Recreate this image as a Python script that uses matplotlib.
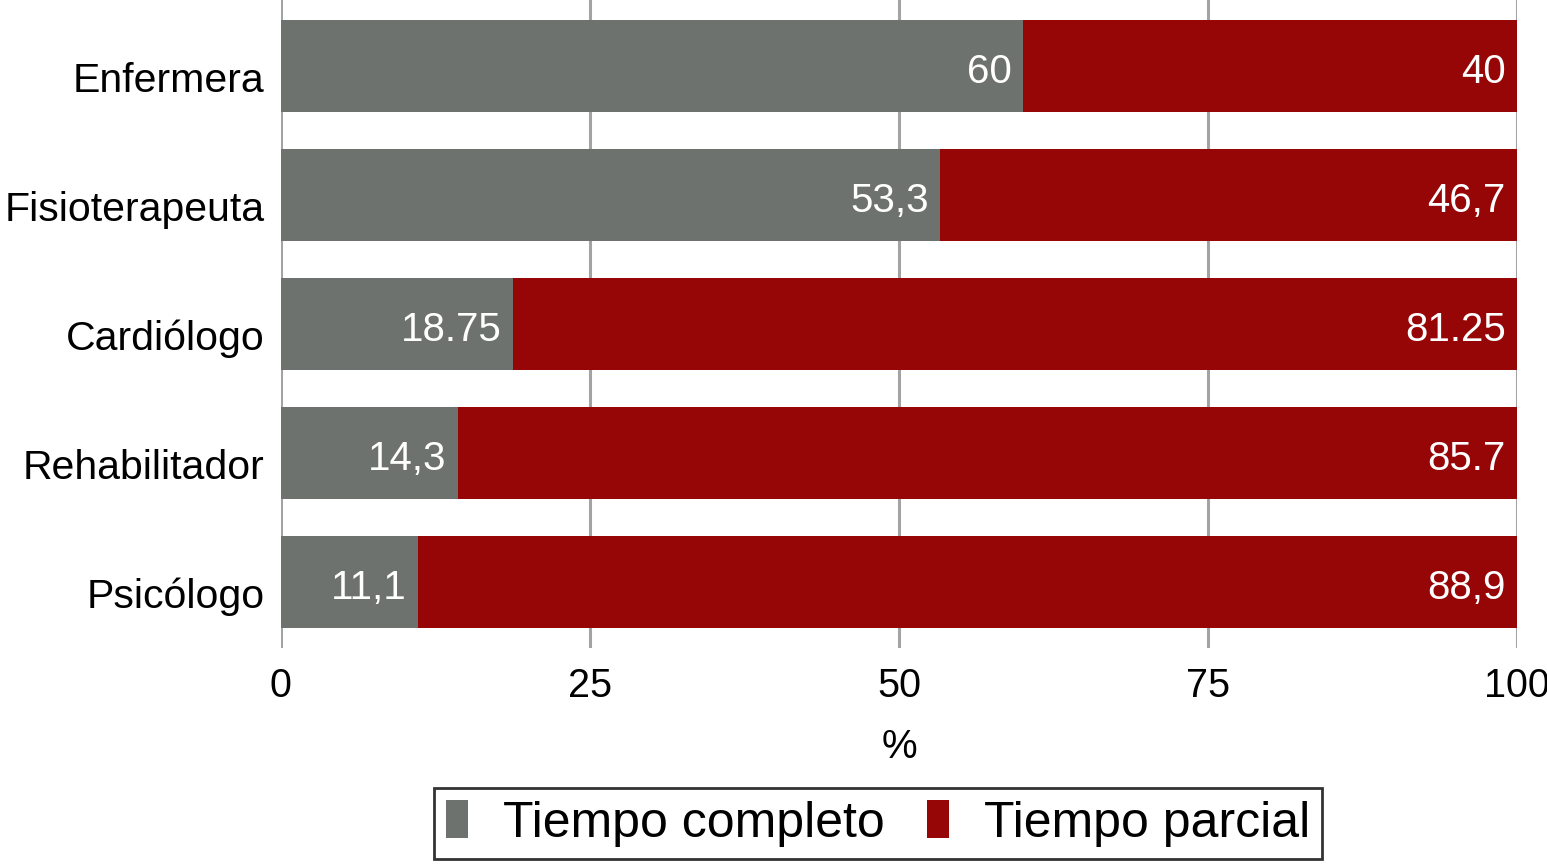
import numpy as np
import matplotlib
matplotlib.use("Agg")
import matplotlib.pyplot as plt
from matplotlib.transforms import ScaledTranslation

plt.rcParams['font.family'] = ['Liberation Sans', 'DejaVu Sans']

categorias = ["Psicólogo", "Rehabilitador", "Cardiólogo", "Fisioterapeuta", "Enfermera"]
completo = [11.1, 14.3, 18.75, 53.3, 60]
parcial = [88.9, 85.7, 81.25, 46.7, 40]
etiq_completo = ["11,1", "14,3", "18.75", "53,3", "60"]
etiq_parcial = ["88,9", "85.7", "81.25", "46,7", "40"]
series = ["Tiempo completo", "Tiempo parcial"]
colores = ["#6d726f", "#970606"]

fig = plt.figure(figsize=(15.47, 8.64), dpi=100)
ax = fig.add_axes([0.1816, 0.25, 0.799, 0.75])

y = np.arange(len(categorias))
ax.barh(y, completo, height=0.71, color=colores[0], label=series[0], zorder=3)
ax.barh(y, parcial, height=0.71, left=completo, color=colores[1], label=series[1], zorder=3)

# texto un poco mas abajo del centro, como en el original
bajar = ScaledTranslation(0, -6 / 100, fig.dpi_scale_trans)
for i in range(len(categorias)):
    ax.text(completo[i] - 0.9, y[i], etiq_completo[i], ha="right", va="center",
            color="white", fontsize=29, zorder=4, transform=ax.transData + bajar)
    ax.text(completo[i] + parcial[i] - 0.9, y[i], etiq_parcial[i], ha="right", va="center",
            color="white", fontsize=29, zorder=4, transform=ax.transData + bajar)

ax.set_xlim(0, 100)
ax.set_ylim(-0.51, 4.51)
ax.set_xticks([0, 25, 50, 75, 100])
ax.set_yticks(y)
ax.set_yticklabels(categorias)
ax.tick_params(axis="x", length=0, labelsize=28.5, pad=14)
ax.tick_params(axis="y", length=0, labelsize=29.5, pad=12)
for lab in ax.get_yticklabels():
    lab.set_transform(lab.get_transform() + ScaledTranslation(0, -11 / 100, fig.dpi_scale_trans))
ax.xaxis.grid(True, color="#a3a3a3", linewidth=2.2, zorder=0)
ax.set_axisbelow(True)
for s in ax.spines.values():
    s.set_visible(False)
ax.set_xlabel("%", fontsize=29, labelpad=16)

leg = fig.legend(loc="center", bbox_to_anchor=(0.5676, 0.047), ncol=2, fontsize=36,
                 frameon=True, fancybox=False, edgecolor="black",
                 handlelength=0.43, handleheight=0.8, handletextpad=0.7,
                 columnspacing=0.85, borderpad=0.25, borderaxespad=0)
leg.get_frame().set_linewidth(2)

fig.savefig("out.png", dpi=100)
